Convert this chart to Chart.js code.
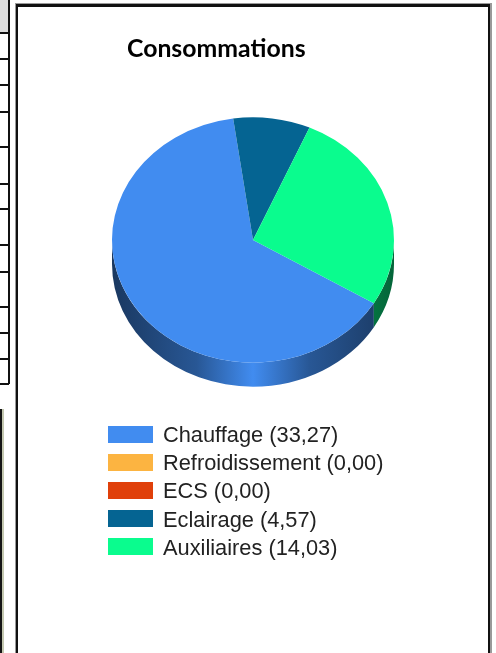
<!DOCTYPE html>
<html>
<head>
<meta charset="utf-8">
<script src="https://cdn.jsdelivr.net/npm/chart.js@4"></script>
<style>
  html, body { margin: 0; padding: 0; background: #fff; }
  #page { position: relative; width: 496px; height: 653px; overflow: hidden; background: #fff; }
  .abs { position: absolute; }
  #frameOuter { left: 15px; top: 3px; width: 477px; height: 700px; background: #9a9a9a; }
  #frameInner { left: 1px; top: 1px; width: 474px; height: 700px; box-sizing: border-box;
                border: 2px solid #111; border-top-width: 3px; background: #fff; }
  #chartCanvas { position: absolute; left: 0; top: 0; }
  #title { left: 127px; top: 35px; font: bold 24.8px Lato, "Open Sans", sans-serif; line-height: 25px; color: #000; white-space: nowrap; }
  #legend { left: 108px; top: 421px; font: 21.8px "Liberation Sans", Arial, sans-serif; color: #222; }
  .row { position: relative; height: 28.2px; line-height: 28px; white-space: nowrap; }
  .box { position: absolute; left: 0; top: 4.5px; width: 45px; height: 17px; }
  .txt { position: absolute; left: 55px; top: 0; }
</style>
</head>
<body>
<div id="page">
  <div id="leftTable"></div>
  <div class="abs" style="left:0;top:409px;width:2px;height:260px;background:#151515"></div>
  <div class="abs" style="left:2px;top:409px;width:2px;height:260px;background:#c4c8b0"></div>
  <div id="frameOuter" class="abs"><div id="frameInner" class="abs"></div></div>
  <canvas id="chartCanvas" width="496" height="653"></canvas>
  <div id="title" class="abs">Consommations</div>
  <div id="legend" class="abs"></div>
</div>
<script>
const categories = ['Chauffage', 'Refroidissement', 'ECS', 'Eclairage', 'Auxiliaires'];
const consumption = [33.27, 0.00, 0.00, 4.57, 14.03];
const sliceColors = ['#418CF0', '#FCB441', '#E0400A', '#056492', '#0AFC8E'];

// bits of the neighbouring table on the left edge
const tableLines = [32, 58, 84, 111, 146, 183, 208, 244, 271, 306, 332, 358, 383];
const leftTable = document.getElementById('leftTable');
let html = '<div class="abs" style="left:0;top:0;width:8px;height:32px;background:#dcdcdc"></div>';
html += '<div class="abs" style="left:8px;top:0;width:1.5px;height:384px;background:#111"></div>';
tableLines.forEach(y => {
    html += `<div class="abs" style="left:0;top:${y}px;width:9px;height:1.5px;background:#111"></div>`;
});
leftTable.innerHTML = html;

// legend
const legend = document.getElementById('legend');
legend.innerHTML = categories.map((c, i) =>
    `<div class="row"><div class="box" style="background:${sliceColors[i]}"></div>` +
    `<div class="txt">${c} (${consumption[i].toFixed(2).replace('.', ',')})</div></div>`
).join('');

const tilt = 0.87;
const depth = 24;

function shade(hex, f) {
    const n = parseInt(hex.slice(1), 16);
    const r = Math.min(255, Math.round(((n >> 16) & 255) * f));
    const g = Math.min(255, Math.round(((n >> 8) & 255) * f));
    const b = Math.min(255, Math.round((n & 255) * f));
    return `rgb(${r},${g},${b})`;
}

// fake 3D: draw the rim, then squash the pie into an ellipse
const pie3d = {
    id: 'pie3d',
    beforeDatasetsDraw(chart) {
        const ctx = chart.ctx;
        const arcs = chart.getDatasetMeta(0).data;
        const first = arcs[0].getProps(['x', 'y', 'outerRadius'], true);
        const cx = first.x, cy = first.y, r = first.outerRadius;
        ctx.save();
        arcs.forEach((arc, i) => {
            const p = arc.getProps(['startAngle', 'endAngle'], true);
            if (p.endAngle - p.startAngle <= 0) return;
            const base = chart.data.datasets[0].backgroundColor[i];
            const grad = ctx.createLinearGradient(cx - r, 0, cx + r, 0);
            grad.addColorStop(0, shade(base, 0.4));
            grad.addColorStop(0.3, shade(base, 0.62));
            grad.addColorStop(0.5, shade(base, 1.0));
            grad.addColorStop(0.7, shade(base, 0.62));
            grad.addColorStop(1, shade(base, 0.4));
            for (let k = -1; k <= 2; k++) {
                const a0 = Math.max(p.startAngle, 2 * Math.PI * k);
                const a1 = Math.min(p.endAngle, 2 * Math.PI * k + Math.PI);
                if (a1 <= a0) continue;
                ctx.beginPath();
                ctx.ellipse(cx, cy, r, r * tilt, 0, a0, a1, false);
                ctx.ellipse(cx, cy + depth, r, r * tilt, 0, a1, a0, true);
                ctx.closePath();
                ctx.fillStyle = grad;
                ctx.fill();
            }
        });
        ctx.translate(cx, cy);
        ctx.scale(1, tilt);
        ctx.translate(-cx, -cy);
    },
    afterDatasetsDraw(chart) {
        chart.ctx.restore();
    }
};

new Chart(document.getElementById('chartCanvas').getContext('2d'), {
    type: 'pie',
    data: {
        labels: categories,
        datasets: [{
            data: consumption,
            backgroundColor: sliceColors,
            borderWidth: 0,
            hoverOffset: 0
        }]
    },
    options: {
        responsive: false,
        animation: false,
        events: [],
        rotation: 121,
        layout: { padding: { left: 112, right: 102, top: 99, bottom: 272 } },
        plugins: {
            legend: { display: false },
            tooltip: { enabled: false },
            title: { display: false }
        }
    },
    plugins: [pie3d]
});
</script>
</body>
</html>
